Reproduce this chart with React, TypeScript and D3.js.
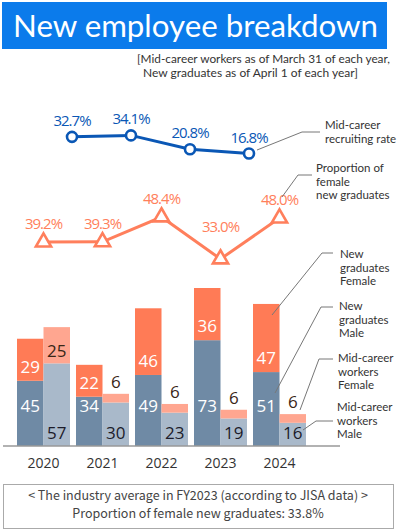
import React from 'react';
import * as d3 from 'd3';

const years = ['2020', '2021', '2022', '2023', '2024'];
const newGradMale = [45, 34, 49, 73, 51];
const newGradFemale = [29, 22, 46, 36, 47];
const midMale = [57, 30, 23, 19, 16];
const midFemale = [25, 6, 6, 6, 6];
const midRateYears = ['2020', '2021', '2022', '2023'];
const midRate = [32.7, 34.1, 20.8, 16.8];
const femaleRate = [39.2, 39.3, 48.4, 33.0, 48.0];

const C = {
  title: '#0b7beb',
  blue: '#0a57b5',
  orange: '#ff7f5c',
  newF: '#ff7b56',
  newM: '#6f8aa5',
  midF: '#ffa690',
  midM: '#a9b9ca',
  text: '#333',
};

const font = 'Lato, "Open Sans", sans-serif';
const numFont = '"Open Sans", "Noto Sans", sans-serif';

const x = d3.scaleBand<string>().domain(years).range([17, 306]).paddingInner(0.1017).paddingOuter(0);
const sub = d3.scaleBand<string>().domain(['new', 'mid']).range([0, x.bandwidth()]);
const y = d3.scaleLinear().domain([0, 109]).range([446, 288]);
const yBlue = d3.scaleLinear().domain([16.8, 34.1]).range([153.5, 135.4]);
const yOrange = d3.scaleLinear().domain([33.0, 48.4]).range([259, 217]);

const blueLine = d3
  .line<number>()
  .x((_, i) => (x(midRateYears[i]) as number) + x.bandwidth() + 2)
  .y((d) => yBlue(d));
const orangeLine = d3
  .line<number>()
  .x((_, i) => (x(years[i]) as number) + x.bandwidth() / 2)
  .y((d) => yOrange(d));
const tri = d3.symbol(d3.symbolTriangle, 100)();

const notes = [
  { lines: ['Mid-career', 'recruiting rate'], tx: 325, ty: 125, path: 'M257,150L302,132L320,132' },
  { lines: ['Proportion of', 'female', 'new graduates'], tx: 316, ty: 168, path: 'M282,197L298,175L312,175' },
  { lines: ['New', 'graduates', 'Female'], tx: 340, ty: 254, path: 'M272,315L322,253L333,253' },
  { lines: ['New', 'graduates', 'Male'], tx: 339, ty: 306, path: 'M275,393L321,307L333,307' },
  { lines: ['Mid-career', 'workers', 'Female'], tx: 338, ty: 358, path: 'M300,410L319,359L333,359' },
  { lines: ['Mid-career', 'workers', 'Male'], tx: 337, ty: 407, path: 'M303,430L316,421L333,421' },
];

export default function App() {
  const bw = sub.bandwidth();
  return (
    <svg width={397} height={531} style={{ position: 'absolute', left: 0, top: 0 }}>
      <rect x={2} y={2} width={385} height={47} fill={C.title} />
      <text x={13} y={37} fill="#fff" fontSize={31} fontFamily={font} textLength={365} lengthAdjust="spacingAndGlyphs">
        New employee breakdown
      </text>
      <text x={137} y={63} fill={C.text} fontSize={11.5} fontFamily={font} textLength={253} lengthAdjust="spacingAndGlyphs">
        [Mid-career workers as of March 31 of each year,
      </text>
      <text x={143} y={77} fill={C.text} fontSize={11.5} fontFamily={font} textLength={215} lengthAdjust="spacingAndGlyphs">
        New graduates as of April 1 of each year]
      </text>

      {/* bars */}
      {years.map((yr, i) => {
        const x0 = x(yr) as number;
        const xn = x0 + (sub('new') as number);
        const xm = x0 + (sub('mid') as number);
        const nm = y(newGradMale[i]);
        const nf = y(newGradMale[i] + newGradFemale[i]);
        const mm = y(midMale[i]);
        const mf = y(midMale[i] + midFemale[i]);
        const midFBig = mm - mf > 30;
        return (
          <g key={yr}>
            <rect x={xn} y={nm} width={bw} height={y(0) - nm} fill={C.newM} />
            <rect x={xn} y={nf} width={bw} height={nm - nf} fill={C.newF} />
            <rect x={xm} y={mm} width={bw} height={y(0) - mm} fill={C.midM} />
            <rect x={xm} y={mf} width={bw} height={mm - mf} fill={C.midF} />
            <g fontSize={17} fontFamily={numFont} textAnchor="middle">
              <text x={xn + bw / 2} y={y(0) - 34} fill="#fff">{newGradMale[i]}</text>
              <text x={xn + bw / 2} y={nm - 8} fill="#fff">{newGradFemale[i]}</text>
              <text x={xm + bw / 2} y={y(0) - 7} fill="#1c1c2a">{midMale[i]}</text>
              <text x={xm + bw / 2} y={midFBig ? mm - 6 : mf - 6} fill="#3a2616">{midFemale[i]}</text>
            </g>
            <text x={x0 + x.bandwidth() / 2} y={468} textAnchor="middle" fontSize={14} fontFamily={numFont} fill={C.text}>
              {yr}
            </text>
          </g>
        );
      })}
      <line x1={3} x2={340} y1={y(0)} y2={y(0)} stroke="#999" strokeWidth={1.5} />

      {/* mid-career rate line */}
      <path d={blueLine(midRate) as string} fill="none" stroke={C.blue} strokeWidth={3} />
      {midRate.map((v, i) => {
        const cx = (x(midRateYears[i]) as number) + x.bandwidth() + 2;
        const cy = yBlue(v);
        return (
          <g key={'b' + i}>
            <circle cx={cx} cy={cy} r={5} fill="#fff" stroke={C.blue} strokeWidth={2.6} />
            <text x={cx} y={cy - 11} textAnchor="middle" fontSize={15} fontFamily={numFont} fill={C.blue} letterSpacing={-1}>
              {v.toFixed(1)}%
            </text>
          </g>
        );
      })}

      {/* female ratio line */}
      <path d={orangeLine(femaleRate) as string} fill="none" stroke={C.orange} strokeWidth={3} />
      {femaleRate.map((v, i) => {
        const cx = (x(years[i]) as number) + x.bandwidth() / 2;
        const cy = yOrange(v);
        const ly = Math.min(cy - 18, 227);
        return (
          <g key={'o' + i}>
            <path d={tri as string} transform={`translate(${cx},${cy})`} fill="#fff" stroke={C.orange} strokeWidth={2.6} />
            <text x={cx} y={ly + 5} textAnchor="middle" fontSize={15} fontFamily={numFont} fill={C.orange} letterSpacing={-1}>
              {v.toFixed(1)}%
            </text>
          </g>
        );
      })}

      {/* annotations */}
      {notes.map((n, i) => (
        <g key={'n' + i}>
          <path d={n.path} fill="none" stroke="#777" strokeWidth={1} />
          {n.lines.map((l, j) => (
            <text key={j} x={n.tx} y={n.ty + 4 + j * 13.5} fontSize={11.5} fontFamily={font} fill={C.text}>
              {l}
            </text>
          ))}
        </g>
      ))}

      {/* footer */}
      <rect x={3.5} y={484.5} width={390} height={44} fill="#fff" stroke="#aaa" />
      <text x={198} y={500} textAnchor="middle" fontSize={12.5} fontFamily={'"Noto Sans CJK JP", sans-serif'} fill="#444">
        {'< The industry average in FY2023 (according to JISA data) >'}
      </text>
      <text x={198} y={518} textAnchor="middle" fontSize={12.5} fontFamily={'"Noto Sans CJK JP", sans-serif'} fill="#444">
        Proportion of female new graduates: 33.8%
      </text>
    </svg>
  );
}
